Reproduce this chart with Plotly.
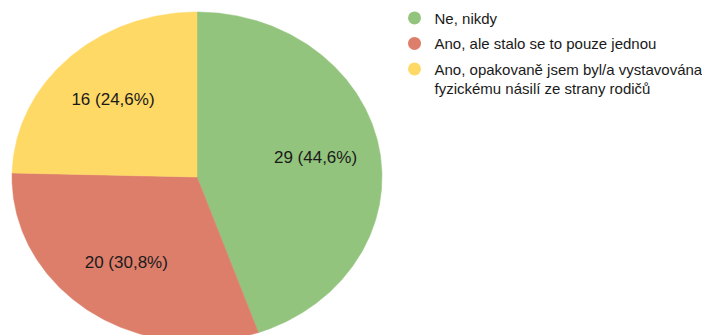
import numpy as np
import plotly.graph_objects as go

# Survey answers and counts
labels = [
    "Ne, nikdy",
    "Ano, ale stalo se to pouze jednou",
    "Ano, opakovaně jsem byl/a vystavována<br>fyzickému násilí ze strany rodičů",
]
counts = [29, 20, 16]
slice_text = ["29 (44,6%)", "20 (30,8%)", "16 (24,6%)"]
colors = ["#93C47D", "#DD7E6B", "#FFD966"]

FONT = "Arial, 'Liberation Sans', Helvetica, sans-serif"

total = sum(counts)
fracs = [c / total for c in counts]

fig = go.Figure()

# Pie slices drawn clockwise from 12 o'clock on a unit ellipse (x and y axes scaled differently)
start = 0.0
label_x, label_y = [], []
for frac, col in zip(fracs, colors):
    end = start + frac * 2 * np.pi
    phi = np.linspace(start, end, max(int(frac * 720), 8))
    xs = np.concatenate([[0.0], np.sin(phi), [0.0]])
    ys = np.concatenate([[0.0], np.cos(phi), [0.0]])
    fig.add_trace(go.Scatter(
        x=xs, y=ys, mode="lines", fill="toself", fillcolor=col,
        line=dict(color=col, width=0.5), hoverinfo="skip", showlegend=False,
    ))
    mid = (start + end) / 2
    label_x.append(0.65 * np.sin(mid))
    label_y.append(0.65 * np.cos(mid))
    start = end

# Value labels inside the slices
fig.add_trace(go.Scatter(
    x=label_x, y=label_y, mode="text", text=slice_text,
    textfont=dict(family=FONT, size=17, color="#1a1a1a"),
    hoverinfo="skip", showlegend=False,
))

# Legend entries
for i, (name, col) in enumerate(zip(labels, colors)):
    fig.add_trace(go.Scatter(
        x=[None], y=[None], mode="markers", name=name, legendgroup=f"g{i}",
        marker=dict(size=13, color=col, symbol="circle"),
    ))

cx_px, cy_px, rx_px, ry_px = 197, 177, 185, 165
W, H = 702, 335

fig.update_layout(
    width=W, height=H,
    margin=dict(l=0, r=0, t=0, b=0, autoexpand=False),
    paper_bgcolor="white", plot_bgcolor="white",
    xaxis=dict(range=[-cx_px / rx_px, (W - cx_px) / rx_px], visible=False, fixedrange=True),
    yaxis=dict(range=[-(H - cy_px) / ry_px, cy_px / ry_px], visible=False, fixedrange=True),
    legend=dict(
        x=0.562, y=0.995, xanchor="left", yanchor="top",
        font=dict(family=FONT, size=15, color="#1a1a1a"),
        valign="top", tracegroupgap=3, itemclick=False, itemdoubleclick=False,
    ),
    showlegend=True,
)

fig.write_html("out.html")
